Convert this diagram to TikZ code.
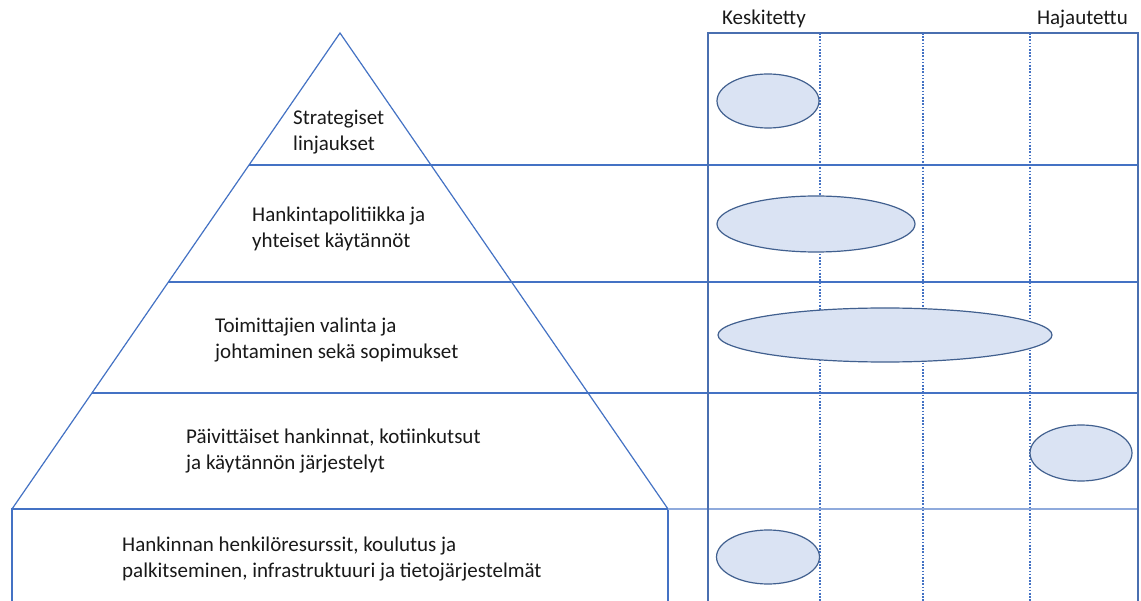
\documentclass[tikz,border=0pt]{standalone}
\usepackage{fontspec}
\setmainfont{Carlito}
\usetikzlibrary{shapes.geometric}
\definecolor{lineblue}{HTML}{4472C4}
\definecolor{frameblue}{HTML}{4A6FB0}
\definecolor{ovalfill}{HTML}{DAE3F3}
\definecolor{ovaldraw}{HTML}{41608F}
\definecolor{sepblue}{HTML}{8FAADC}
\tikzset{
  layer/.style={draw=lineblue, line width=1.2pt},
  frame/.style={draw=frameblue, line width=1.4pt},
  gridline/.style={draw=lineblue, line width=1.1pt, dash pattern=on 1.6pt off 1.6pt},
  label/.style={inner sep=0pt, anchor=west, align=left, font=\fontsize{21}{26.5}\selectfont, text=black!90},
  head/.style={inner sep=0pt, font=\fontsize{21}{24}\selectfont, text=black!90},
  oval/.style={ellipse, draw=ovaldraw, fill=ovalfill, line width=1.2pt, inner sep=0pt}
}
\begin{document}
\begin{tikzpicture}[x=1pt, y=-1pt]
\useasboundingbox (0,0) rectangle (1141,601);
\fill[white] (0,0) rectangle (1141,601);

% pyramid outline
\coordinate (apex) at (340,33);
\coordinate (bl) at (12,509);
\coordinate (br) at (668,509);
\draw[layer] (bl) -- (apex) -- (br);

% layer separators running across to the right frame
\draw[layer] (249,165) -- (1138,165);
\draw[layer] (168,282) -- (1138,282);
\draw[layer] (92,393) -- (1138,393);

% foundation box
\draw[layer] (12,601) -- (bl) -- (br) -- (668,601);
\draw[draw=sepblue, line width=1.6pt] (br) -- (1138,509);

% right-hand scale frame
\draw[frame] (708,601) -- (708,33) -- (1138,33) -- (1138,601);
\draw[gridline] (820,33) -- (820,601);
\draw[gridline] (923,33) -- (923,601);
\draw[gridline] (1030,33) -- (1030,601);

\node[head, anchor=west] (keski) at (722,19) {Keskitetty};
\node[head, anchor=east] (hajau) at (1128,19) {Hajautettu};

% layer texts
\node[label] (strat) at (293,132) {Strategiset\\linjaukset};
\node[label] (polit) at (252,229) {Hankintapolitiikka ja\\yhteiset käytännöt};
\node[label] (toim) at (215,340) {Toimittajien valinta ja\\johtaminen sekä sopimukset};
\node[label] (paiv) at (186,451) {Päivittäiset hankinnat, kotiinkutsut\\ja käytännön järjestelyt};
\node[label] (henk) at (122,559) {Hankinnan henkilöresurssit, koulutus ja\\palkitseminen, infrastruktuuri ja tietojärjestelmät};

% positions on the scale
\node[oval, minimum width=102pt, minimum height=54pt] (o1) at (768,101) {};
\node[oval, minimum width=198pt, minimum height=56pt] (o2) at (816,224) {};
\node[oval, minimum width=334pt, minimum height=54pt] (o3) at (885,335) {};
\node[oval, minimum width=102pt, minimum height=56pt] (o4) at (1081,453) {};
\node[oval, minimum width=103pt, minimum height=54pt] (o5) at (768,557) {};
\end{tikzpicture}
\end{document}
